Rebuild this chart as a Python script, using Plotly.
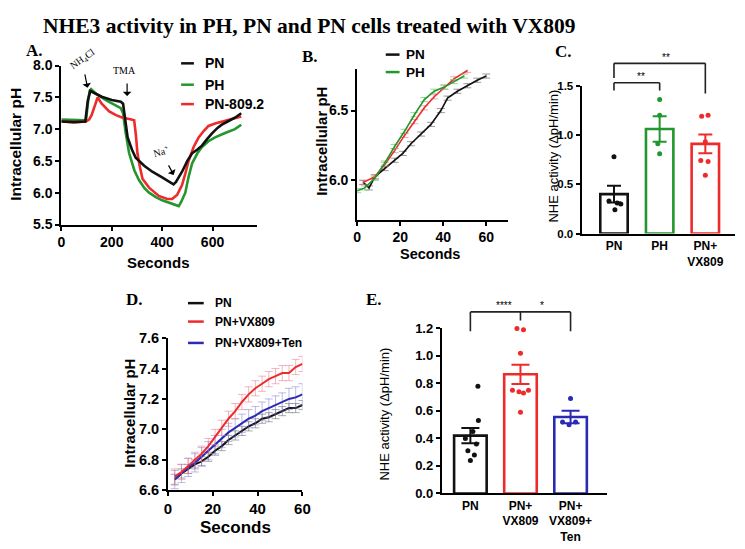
import plotly.graph_objects as go

W, H = 745, 549

# ---------------- Panel A data ----------------
a_t_pn = [0, 50, 95, 105, 115, 130, 160, 200, 236, 245, 255, 263, 280, 295, 330, 361, 400, 427, 445, 455, 479, 500, 519, 540, 558, 580, 597, 620, 637, 660, 689, 714]
a_ph_pn = [7.12, 7.11, 7.12, 7.45, 7.60, 7.57, 7.51, 7.46, 7.43, 7.40, 7.05, 6.87, 6.68, 6.55, 6.42, 6.33, 6.24, 6.18, 6.13, 6.17, 6.33, 6.50, 6.62, 6.68, 6.74, 6.85, 6.93, 7.02, 7.07, 7.12, 7.18, 7.25]
a_t_ph = [0, 50, 98, 105, 112, 118, 140, 180, 236, 245, 255, 269, 290, 308, 330, 348, 375, 400, 440, 466, 475, 492, 505, 519, 540, 558, 584, 610, 650, 689, 714]
a_ph_ph = [7.15, 7.14, 7.14, 7.40, 7.60, 7.63, 7.55, 7.45, 7.33, 7.25, 6.95, 6.62, 6.35, 6.20, 6.07, 6.00, 5.93, 5.88, 5.83, 5.79, 5.85, 6.00, 6.25, 6.46, 6.62, 6.72, 6.81, 6.87, 6.94, 7.00, 7.07]
a_t_809 = [0, 50, 98, 110, 120, 130, 144, 160, 190, 217, 243, 270, 289, 296, 302, 312, 322, 348, 387, 420, 440, 460, 479, 492, 505, 525, 545, 565, 584, 610, 637, 680, 714]
a_ph_809 = [7.12, 7.11, 7.12, 7.15, 7.22, 7.35, 7.50, 7.40, 7.28, 7.22, 7.18, 7.16, 7.14, 6.90, 6.62, 6.40, 6.22, 6.08, 5.95, 5.90, 5.90, 5.97, 6.12, 6.30, 6.50, 6.72, 6.87, 6.97, 7.05, 7.09, 7.12, 7.17, 7.20]

# ---------------- Panel B data ----------------
b_t_pn = [2.8, 5.5, 8.2, 12.8, 17.4, 21.2, 25.0, 29.7, 34.3, 38.9, 42.0, 46.6, 51.2, 55.8, 60.0]
b_ph_pn = [5.98, 5.94, 6.02, 6.08, 6.14, 6.19, 6.26, 6.33, 6.40, 6.50, 6.59, 6.64, 6.68, 6.72, 6.75]
b_err_pn = [0.015] * 15
b_t_ph = [0.0, 3.5, 8.2, 12.8, 17.4, 22.0, 26.6, 31.2, 35.8, 40.5, 45.0, 49.7]
b_ph_ph = [5.92, 5.94, 6.01, 6.12, 6.24, 6.35, 6.47, 6.58, 6.64, 6.67, 6.71, 6.75]
b_err_ph = [0.015] * 12
b_t_809 = [2.8, 8.2, 12.8, 17.4, 22.0, 26.6, 31.2, 35.8, 40.5, 45.0, 51.2]
b_ph_809 = [5.98, 6.02, 6.11, 6.21, 6.32, 6.42, 6.52, 6.60, 6.67, 6.73, 6.79]
b_err_809 = [0.015] * 11

# ---------------- Panel C data ----------------
c_groups = ["PN", "PH", "PN+<br>VX809"]
c_means = [0.40, 1.06, 0.91]
c_sem = [0.085, 0.13, 0.095]
c_pts_pn = [0.78, 0.33, 0.31, 0.30, 0.24]
c_pts_ph = [1.36, 1.20, 0.91, 0.81]
c_pts_vx = [1.19, 1.20, 0.93, 0.74, 0.73, 0.59]

# ---------------- Panel D data ----------------
d_t = [3, 6, 9, 12, 15, 18, 21, 24, 27, 30, 33, 36, 39, 42, 45, 48, 51, 54, 57, 60]
d_pn = [6.67, 6.71, 6.74, 6.77, 6.79, 6.82, 6.86, 6.89, 6.93, 6.96, 6.99, 7.02, 7.04, 7.07, 7.08, 7.10, 7.12, 7.14, 7.14, 7.16]
d_pn_err = [0.035, 0.03, 0.03, 0.03, 0.03, 0.03, 0.03, 0.03, 0.03, 0.03, 0.03, 0.03, 0.03, 0.03, 0.03, 0.03, 0.03, 0.03, 0.03, 0.03]
d_vx = [6.69, 6.72, 6.76, 6.80, 6.84, 6.89, 6.95, 7.01, 7.07, 7.12, 7.18, 7.23, 7.27, 7.30, 7.33, 7.35, 7.37, 7.37, 7.41, 7.43]
d_vx_err = [0.05, 0.05, 0.05, 0.05, 0.05, 0.05, 0.05, 0.05, 0.05, 0.05, 0.05, 0.05, 0.05, 0.05, 0.05, 0.05, 0.05, 0.05, 0.05, 0.05]
d_ten = [6.67, 6.71, 6.75, 6.78, 6.82, 6.86, 6.90, 6.94, 6.98, 7.01, 7.04, 7.07, 7.09, 7.12, 7.14, 7.16, 7.18, 7.20, 7.21, 7.23]
d_ten_err = [0.06, 0.06, 0.06, 0.06, 0.06, 0.06, 0.06, 0.06, 0.06, 0.06, 0.06, 0.06, 0.06, 0.06, 0.06, 0.06, 0.06, 0.07, 0.07, 0.07]

# ---------------- Panel E data ----------------
e_groups = ["PN", "PN+<br>VX809", "PN+<br>VX809+<br>Ten"]
e_means = [0.42, 0.866, 0.556]
e_sem = [0.055, 0.07, 0.045]
e_pts_pn = [0.78, 0.53, 0.45, 0.40, 0.36, 0.31, 0.28, 0.24]
e_pts_vx = [1.20, 1.19, 1.02, 0.75, 0.74, 0.73, 0.75, 0.59]
e_pts_ten = [0.69, 0.52, 0.50, 0.52]

# jitter offsets (style only)
c_jit = [[0.0, -0.11, 0.07, 0.15, 0.02], [0.0, 0.0, -0.04, 0.0], [-0.08, 0.06, 0.0, -0.1, 0.06, 0.0]]
e_jit = [[0.15, 0.16, 0.05, -0.1, 0.12, -0.05, 0.08, 0.0], [-0.07, 0.06, 0.0, -0.16, -0.03, 0.06, 0.16, 0.0], [0.0, -0.16, -0.03, 0.1]]

BLACK = "#111111"
GREEN = "#23962e"
RED = "#ee2a2a"
BLUE = "#2a2ab4"

SANS = "Liberation Sans, Arial"
SERIF = "Liberation Serif, Times New Roman"


def fx(px):
    return px / W


def fy(py):
    return 1 - py / H


fig = go.Figure()

# Panel A
for t, v, c in [(a_t_ph, a_ph_ph, GREEN), (a_t_809, a_ph_809, RED), (a_t_pn, a_ph_pn, BLACK)]:
    fig.add_trace(go.Scatter(x=t, y=v, mode="lines", line=dict(color=c, width=2.6),
                             xaxis="x", yaxis="y", showlegend=False))

# Panel B
for t, v, e, c, ec in [(b_t_pn, b_ph_pn, b_err_pn, BLACK, "rgba(90,90,90,0.6)"),
                       (b_t_809, b_ph_809, b_err_809, RED, "rgba(235,110,130,0.6)"),
                       (b_t_ph, b_ph_ph, b_err_ph, GREEN, "rgba(110,200,110,0.7)")]:
    fig.add_trace(go.Scatter(x=t, y=v, mode="lines", line=dict(color=c, width=1.6),
                             error_y=dict(type="data", array=e, color=ec, thickness=1, width=4),
                             xaxis="x2", yaxis="y2", showlegend=False))

# Panel C
c_cols = [BLACK, GREEN, RED]
c_x = [0, 1, 2]
fig.add_trace(go.Bar(x=c_x, y=c_means, width=0.6, marker=dict(color="rgba(255,255,255,0)",
                     line=dict(color=c_cols, width=2.6)),
                     xaxis="x3", yaxis="y3", showlegend=False))
for i, (m, s) in enumerate(zip(c_means, c_sem)):
    fig.add_trace(go.Scatter(x=[c_x[i]], y=[m], mode="markers", marker=dict(size=1, color=c_cols[i]),
                             error_y=dict(type="data", array=[s], color=c_cols[i], thickness=2, width=7),
                             xaxis="x3", yaxis="y3", showlegend=False))
for i, pts in enumerate([c_pts_pn, c_pts_ph, c_pts_vx]):
    fig.add_trace(go.Scatter(x=[c_x[i] + j for j in c_jit[i]], y=pts, mode="markers",
                             marker=dict(size=5, color=c_cols[i]), cliponaxis=False,
                             xaxis="x3", yaxis="y3", showlegend=False))

# Panel D
for v, e, c, ec in [(d_pn, d_pn_err, BLACK, "rgba(100,100,110,0.55)"),
                    (d_ten, d_ten_err, BLUE, "rgba(120,120,210,0.5)"),
                    (d_vx, d_vx_err, RED, "rgba(235,120,140,0.55)")]:
    fig.add_trace(go.Scatter(x=d_t, y=v, mode="lines", line=dict(color=c, width=2),
                             error_y=dict(type="data", array=e, color=ec, thickness=1, width=4),
                             xaxis="x4", yaxis="y4", showlegend=False))

# Panel E
e_cols = [BLACK, RED, BLUE]
e_x = [0, 1, 2]
fig.add_trace(go.Bar(x=e_x, y=e_means, width=0.65, marker=dict(color="rgba(255,255,255,0)",
                     line=dict(color=e_cols, width=2.6)),
                     xaxis="x5", yaxis="y5", showlegend=False))
for i, (m, s) in enumerate(zip(e_means, e_sem)):
    fig.add_trace(go.Scatter(x=[e_x[i]], y=[m], mode="markers", marker=dict(size=1, color=e_cols[i]),
                             error_y=dict(type="data", array=[s], color=e_cols[i], thickness=2, width=9),
                             xaxis="x5", yaxis="y5", showlegend=False))
for i, pts in enumerate([e_pts_pn, e_pts_vx, e_pts_ten]):
    fig.add_trace(go.Scatter(x=[e_x[i] + j for j in e_jit[i]], y=pts, mode="markers",
                             marker=dict(size=5, color=e_cols[i]), cliponaxis=False,
                             xaxis="x5", yaxis="y5", showlegend=False))


def ax(size, **kw):
    d = dict(showline=True, linecolor="black", linewidth=2, ticks="outside", ticklen=4, tickwidth=2,
             tickcolor="black", showgrid=False, zeroline=False,
             tickfont=dict(family=SANS, size=size, color="black", weight="bold"))
    d.update(kw)
    return d


layout = dict(
    width=W, height=H, margin=dict(l=0, r=0, t=0, b=0),
    paper_bgcolor="white", plot_bgcolor="white",
    xaxis=ax(14, domain=[fx(58.3), fx(257)], range=[0, 776], tickvals=[0, 200, 400, 600], anchor="y"),
    yaxis=ax(14, domain=[fy(223), fy(59.3)], range=[5.5, 8.0], tickvals=[5.5, 6.0, 6.5, 7.0, 7.5, 8.0],
             tickformat=".1f", anchor="x"),
    xaxis2=ax(14, domain=[fx(359), fx(512)], range=[0, 70], tickvals=[0, 20, 40, 60], anchor="y2"),
    yaxis2=ax(14, domain=[fy(218), fy(63)], range=[5.71, 6.80], tickvals=[6.0, 6.5], tickformat=".1f",
              anchor="x2"),
    xaxis3=ax(12, domain=[fx(587), fx(743)], range=[-0.71, 2.65], tickvals=c_x, ticktext=c_groups,
              ticks="", anchor="y3"),
    yaxis3=ax(11.5, domain=[fy(232.3), fy(80)], range=[0, 1.5], tickvals=[0, 0.5, 1.0, 1.5],
              tickformat=".1f", anchor="x3"),
    xaxis4=ax(15, domain=[fx(166.7), fx(303.3)], range=[0, 60], tickvals=[0, 20, 40, 60], anchor="y4"),
    yaxis4=ax(14.5, domain=[fy(496.7), fy(340)], range=[6.6, 7.6], tickvals=[6.6, 6.8, 7.0, 7.2, 7.4, 7.6],
              tickformat=".1f", anchor="x4"),
    xaxis5=ax(12, domain=[fx(445), fx(613)], range=[-0.57, 2.73], tickvals=e_x, ticktext=e_groups,
              ticks="", anchor="y5"),
    yaxis5=ax(13, domain=[fy(500), fy(330)], range=[0, 1.2], tickvals=[0, 0.2, 0.4, 0.6, 0.8, 1.0, 1.2],
              tickformat=".1f", anchor="x5"),
)
fig.update_layout(**layout)

ann = []


def txt(x, y, s, size, family=SANS, angle=0, color="black", xref="paper", yref="paper", bold=False):
    if xref == "paper":
        x = fx(x)
    if yref == "paper":
        y = fy(y)
    ann.append(dict(x=x, y=y, xref=xref, yref=yref, text=("<b>%s</b>" % s) if bold else s,
                    showarrow=False, textangle=angle, xanchor="center", yanchor="middle",
                    font=dict(family=family, size=size, color=color)))


# title and panel labels
txt(310, 19, "NHE3 activity in PH, PN and PN cells treated with VX809", 21.5, SERIF, bold=True)
txt(31, 44, "A.", 17, SERIF, bold=True)
txt(311, 50, "B.", 17, SERIF, bold=True)
txt(569, 45, "C.", 17, SERIF, bold=True)
txt(133, 300, "D.", 17, SERIF, bold=True)
txt(376, 300, "E.", 17, SERIF, bold=True)

# axis titles
txt(12, 140, "Intracellular pH", 15.5, angle=-90, bold=True)
txt(157, 262, "Seconds", 15, bold=True)
txt(322, 137, "Intracellular pH", 15, angle=-90, bold=True)
txt(433, 253, "Seconds", 14.5, bold=True)
txt(559, 152, "NHE activity (ΔpH/min)", 13, angle=-90)
txt(128, 417, "Intracellular pH", 15, angle=-90, bold=True)
txt(235, 535, "Seconds", 17, bold=True)
txt(387, 418, "NHE activity (ΔpH/min)", 13, angle=-90)

# manual legends
shapes = []


def leg(x0, x1, y, color, label, size, tx):
    shapes.append(dict(type="line", xref="paper", yref="paper", x0=fx(x0), x1=fx(x1), y0=fy(y), y1=fy(y),
                       line=dict(color=color, width=2.5)))
    ann.append(dict(x=fx(tx), y=fy(y), xref="paper", yref="paper", text="<b>%s</b>" % label,
                    showarrow=False, xanchor="left", yanchor="middle",
                    font=dict(family=SANS, size=size, color="black")))


leg(180, 193, 57, BLACK, "PN", 14, 202)
leg(180, 193, 79, GREEN, "PH", 14, 202)
leg(180, 193, 99, RED, "PN-809.2", 14, 202)
leg(388, 402, 48, BLACK, "PN", 13.5, 407)
leg(388, 402, 66, GREEN, "PH", 13.5, 407)
leg(187, 203, 304, BLACK, "PN", 12, 212)
leg(187, 203, 323, RED, "PN+VX809", 12, 212)
leg(187, 203, 345, BLUE, "PN+VX809+Ten", 12, 212)

# panel A annotations
txt(80, 53, "NH<sub>4</sub>Cl", 10, SERIF, angle=-35)
txt(122, 64, "TMA", 10, SERIF)
txt(160, 147, "Na<sup>+</sup>", 10, SERIF, angle=-15)
for x, y, axp, ayp in [(104, 7.65, -3, -15), (261, 7.52, 0, -14), (446, 6.28, -6, -11)]:
    ann.append(dict(x=x, y=y, xref="x", yref="y", ax=axp, ay=ayp, showarrow=True, text="",
                    arrowhead=1, arrowsize=1.2, arrowwidth=1.2, arrowcolor="black"))


# significance brackets
def bline(xr, x0, x1, y0, y1):
    shapes.append(dict(type="line", xref=xr, yref="paper", x0=x0, x1=x1, y0=fy(y0), y1=fy(y1),
                       line=dict(color="#222222", width=1.6)))


bline("x3", 0, 2, 57, 57)
bline("x3", 0, 0, 57, 72)
bline("x3", 2, 2, 57, 88)
bline("x3", 0, 1, 77, 77)
bline("x3", 0, 0, 77, 85)
bline("x3", 1, 1, 77, 85)
txt(1.14, 51, "**", 10, xref="x3")
txt(0.6, 71, "**", 10, xref="x3")

bline("x5", 0, 2, 313, 313)
bline("x5", 0, 0, 313, 333)
bline("x5", 2, 2, 313, 333)
bline("x5", 1, 1, 313, 322)
txt(0.67, 306, "****", 10, xref="x5")
txt(1.43, 306, "*", 10, xref="x5")

fig.update_layout(annotations=ann, shapes=shapes)
fig.write_html("out.html", config={"displayModeBar": False},
               post_script="document.body.style.margin='0px';document.body.style.overflow='hidden';")
